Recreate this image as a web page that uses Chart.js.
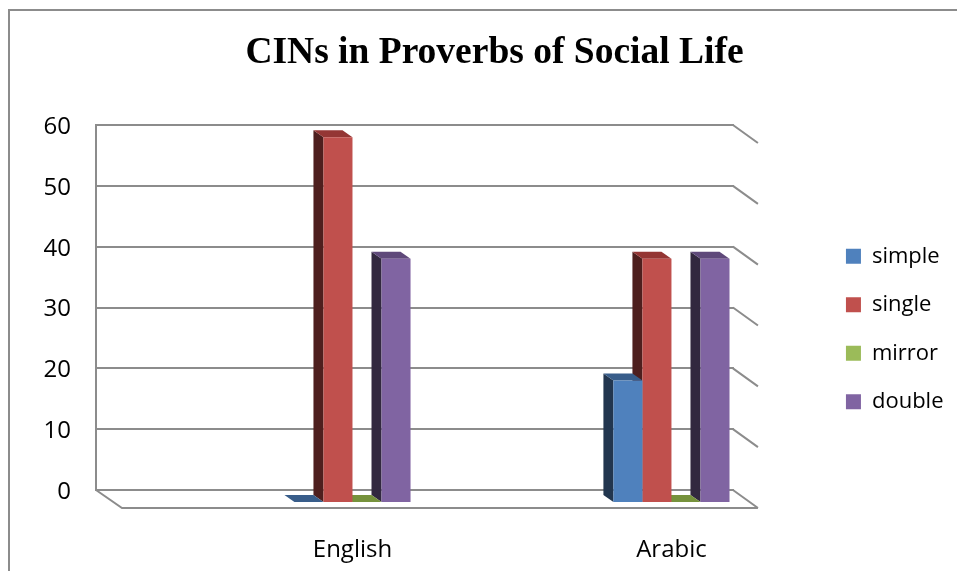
<!DOCTYPE html>
<html>
<head>
<meta charset="utf-8">
<script src="https://cdn.jsdelivr.net/npm/chart.js@4.4.1/dist/chart.umd.min.js"></script>
<style>
  html, body { margin: 0; padding: 0; background: #fff; }
  #wrap { position: relative; width: 957px; height: 571px; overflow: hidden; }
  #frame { position: absolute; left: 8px; top: 9px; width: 980px; height: 600px;
           border-left: 2px solid #8c8c8c; border-top: 2px solid #8c8c8c; }
  #chart { position: absolute; left: 0; top: 0; }
</style>
</head>
<body>
<div id="wrap">
  <div id="frame"></div>
  <!-- canvas runs past the bottom edge so the legend sits lower -->
  <canvas id="chart" width="957" height="658"></canvas>
</div>
<script>
// categories and series
const languages = ['English', 'Arabic'];
const cinTypes = ['simple', 'single', 'mirror', 'double'];
const simple = [0, 18];
const single = [58, 38];
const mirror = [0, 0];
const double = [38, 38];
const yMax = 60;
const yStep = 10;

// column faces: front, left side, top
const frontColors = ['#4F81BD', '#C0504D', '#9BBB59', '#8064A2'];
const sideColors = ['#22364F', '#4E1F1E', '#4F6228', '#32283F'];
const topColors = ['#385D8A', '#943634', '#76923C', '#5F497A'];

const gridColor = '#8c8c8c';
const DEPTH_X = 10, DEPTH_Y = 7;      // bevel of each column
const SHIFT_X = 97, SHIFT_Y = 12;     // columns stand in front of the back wall
const WALL_X = 24, WALL_Y = 18;       // side wall / floor depth
const CANVAS_H = 658;
const PLOT_BOTTOM = 490;

function poly(ctx, pts) {
    ctx.beginPath();
    ctx.moveTo(pts[0][0], pts[0][1]);
    for (let i = 1; i < pts.length; i++) ctx.lineTo(pts[i][0], pts[i][1]);
    ctx.closePath();
    ctx.fill();
}

const wall3d = {
    id: 'wall3d',
    beforeDatasetsDraw(chart) {
        const ctx = chart.ctx;
        const y = chart.scales.y;
        const {left, right} = chart.chartArea;
        const zero = y.getPixelForValue(0);
        ctx.save();
        ctx.strokeStyle = gridColor;
        ctx.lineWidth = 2;
        ctx.beginPath();
        y.ticks.forEach(t => {
            const py = y.getPixelForValue(t.value);
            ctx.moveTo(right - 1, py);
            ctx.lineTo(right + WALL_X, py + WALL_Y);
        });
        // floor
        ctx.moveTo(left, zero);
        ctx.lineTo(left + 26, zero + WALL_Y);
        ctx.lineTo(right + WALL_X, zero + WALL_Y);
        ctx.stroke();
        ctx.restore();
    }
};

const columns3d = {
    id: 'columns3d',
    // columns rest on the floor, a little in front of the zero line
    afterDatasetsUpdate(chart) {
        const floor = chart.scales.y.getPixelForValue(0) + SHIFT_Y;
        chart.data.datasets.forEach((ds, i) => {
            chart.getDatasetMeta(i).data.forEach(el => {
                if (el.base - el.y < 0.5) el.y = floor;
                el.base = floor;
            });
        });
    },
    beforeDatasetsDraw(chart) {
        const ctx = chart.ctx;
        ctx.save();
        ctx.translate(SHIFT_X, 0);

        const bars = [];
        chart.data.datasets.forEach((ds, i) => {
            chart.getDatasetMeta(i).data.forEach(el => bars.push({el, i}));
        });
        // paint right to left so left columns cover the sides behind them
        bars.sort((a, b) => b.el.x - a.el.x);
        bars.forEach(({el, i}) => {
            const l = el.x - el.width / 2, r = el.x + el.width / 2;
            const t = el.y, b = el.base;
            ctx.fillStyle = sideColors[i];
            poly(ctx, [[l, t], [l, b], [l - DEPTH_X, b - DEPTH_Y], [l - DEPTH_X, t - DEPTH_Y]]);
            ctx.fillStyle = topColors[i];
            poly(ctx, [[l, t], [r, t], [r - DEPTH_X, t - DEPTH_Y], [l - DEPTH_X, t - DEPTH_Y]]);
        });
    },
    afterDatasetsDraw(chart) {
        chart.ctx.restore();
    }
};

const series = [simple, single, mirror, double];
const axisFont = { family: 'Open Sans', size: 24 };

new Chart(document.getElementById('chart'), {
    type: 'bar',
    data: {
        labels: languages,
        datasets: cinTypes.map((name, i) => ({
            label: name,
            data: series[i],
            backgroundColor: frontColors[i],
            borderWidth: 0,
            yAxisID: 'y',
            categoryPercentage: 0.364,
            barPercentage: 1,
            clip: false
        }))
    },
    options: {
        responsive: false,
        animation: false,
        events: [],
        layout: { padding: { left: 35.5, right: 3.5, top: 0, bottom: 0 } },
        scales: {
            x: {
                grid: { display: false },
                border: { display: false },
                ticks: {
                    labelOffset: SHIFT_X,
                    padding: 38,
                    color: '#000',
                    font: axisFont
                },
                afterFit(s) { s.height = CANVAS_H - PLOT_BOTTOM; }
            },
            y: {
                min: 0,
                max: yMax,
                ticks: {
                    stepSize: yStep,
                    padding: 25,
                    labelOffset: 2,
                    color: '#000',
                    font: axisFont
                },
                grid: { color: gridColor, lineWidth: 2, drawTicks: false, tickLength: 0 },
                border: { display: true, color: gridColor, width: 2 },
                afterFit(s) { s.width = 60.5; }
            },
            depth: {
                type: 'linear',
                position: 'right',
                grid: { display: false },
                border: { display: false },
                ticks: { display: false },
                afterFit(s) { s.width = 85.5; }
            }
        },
        plugins: {
            title: {
                display: true,
                text: 'CINs in Proverbs of Social Life',
                color: '#000',
                font: { family: 'Liberation Serif', size: 37.5, weight: 'bold' },
                padding: { top: 31, bottom: 49 }
            },
            legend: {
                position: 'right',
                labels: {
                    boxWidth: 15,
                    boxHeight: 15,
                    padding: 26.5,
                    color: '#000',
                    font: { family: 'Open Sans', size: 22 }
                }
            },
            tooltip: { enabled: false }
        }
    },
    plugins: [wall3d, columns3d]
});
</script>
</body>
</html>
